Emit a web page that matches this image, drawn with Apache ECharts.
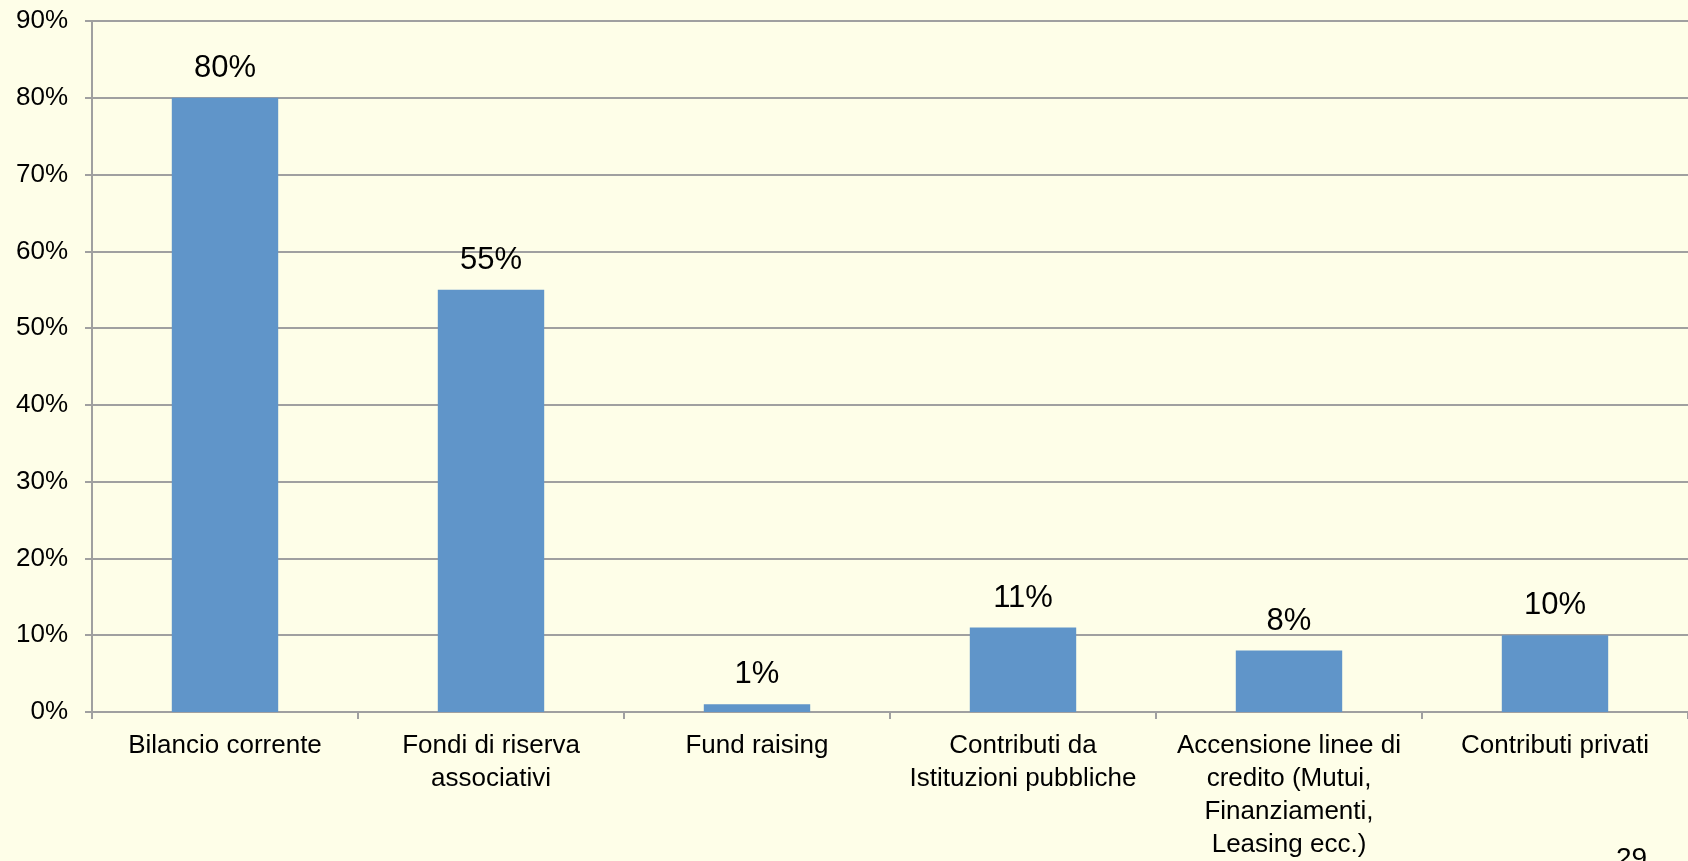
<!DOCTYPE html>
<html>
<head>
<meta charset="utf-8">
<title>Fonti di finanziamento</title>
<script src="https://cdn.jsdelivr.net/npm/echarts@6/dist/echarts.min.js"></script>
<style>
  html, body { margin: 0; padding: 0; background: #FEFEE8; }
  #chart { width: 1688px; height: 861px; }
</style>
</head>
<body>
<div id="chart"></div>
<script>
// Categories (line breaks as shown under the axis)
const categories = [
  'Bilancio corrente',
  'Fondi di riserva\nassociativi',
  'Fund raising',
  'Contributi da\nIstituzioni pubbliche',
  'Accensione linee di\ncredito (Mutui,\nFinanziamenti,\nLeasing ecc.)',
  'Contributi privati'
];

// Share of respondents (%)
const values = [80, 55, 1, 11, 8, 10];

// Value axis ticks
const yTicks = [0, 10, 20, 30, 40, 50, 60, 70, 80, 90];

const pageNumber = '29';

const FONT = '"Liberation Sans", Arial, sans-serif';
const GRID_COLOR = '#A0A0A0';

const chart = echarts.init(document.getElementById('chart'), null, { renderer: 'canvas' });

chart.setOption({
  backgroundColor: '#FEFEE8',
  animation: false,
  textStyle: { fontFamily: FONT, color: '#000' },
  grid: { left: 92, top: 21, width: 1600, bottom: 146, containLabel: false },
  xAxis: {
    type: 'category',
    data: categories,
    axisLine: { show: true, lineStyle: { color: GRID_COLOR, width: 2 } },
    axisTick: { show: true, alignWithLabel: false, length: 7, lineStyle: { color: GRID_COLOR, width: 2 } },
    axisLabel: {
      interval: 0,
      margin: 17,
      fontSize: 26,
      lineHeight: 33,
      color: '#000',
      fontFamily: FONT,
      align: 'center'
    },
    splitLine: { show: false }
  },
  yAxis: {
    type: 'value',
    min: yTicks[0],
    max: yTicks[yTicks.length - 1],
    interval: yTicks[1] - yTicks[0],
    axisLine: { show: true, lineStyle: { color: GRID_COLOR, width: 2 } },
    axisTick: { show: true, length: 7, lineStyle: { color: GRID_COLOR, width: 2 } },
    axisLabel: {
      formatter: '{value}%',
      margin: 24,
      fontSize: 26,
      color: '#000',
      fontFamily: FONT
    },
    splitLine: { show: true, lineStyle: { color: GRID_COLOR, width: 2 } }
  },
  series: [{
    type: 'bar',
    data: values,
    barWidth: '40%',
    itemStyle: { color: '#6095C9' },
    label: {
      show: true,
      position: 'top',
      distance: 14,
      formatter: p => p.value + '%',
      fontSize: 31,
      lineHeight: 31,
      color: '#000',
      fontFamily: FONT
    }
  }],
  graphic: [{
    type: 'text',
    left: 1616,
    top: 845,
    style: { text: pageNumber, fontSize: 28, fontFamily: FONT, fill: '#000' }
  }]
});
</script>
</body>
</html>
